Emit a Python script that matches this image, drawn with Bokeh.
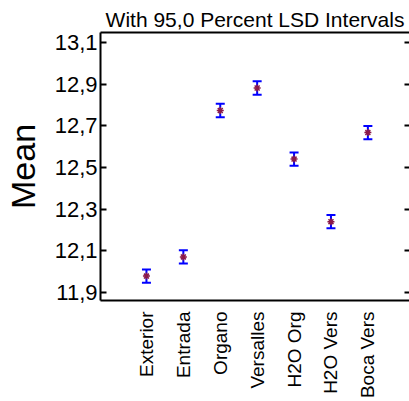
from bokeh.plotting import figure
from bokeh.models import (ColumnDataSource, Range1d, FixedTicker, LinearAxis,
                          Whisker, CustomJSTickFormatter, TeeHead)
from bokeh.embed import file_html
from bokeh.resources import INLINE

categories = ["Exterior", "Entrada", "Organo", "Versalles", "H2O Org", "H2O Vers", "Boca Vers"]
means = [11.979, 12.071, 12.773, 12.881, 12.540, 12.240, 12.667]
half_width = [0.032, 0.032, 0.032, 0.032, 0.032, 0.032, 0.032]
y_ticks = [11.9, 12.1, 12.3, 12.5, 12.7, 12.9, 13.1]
title_text = "With 95,0 Percent LSD Intervals"
y_label = "Mean"

xs = list(range(len(categories)))
src = ColumnDataSource(dict(
    x=xs, y=means,
    lower=[m - h for m, h in zip(means, half_width)],
    upper=[m + h for m, h in zip(means, half_width)],
))

FONT = "Liberation Sans"

p = figure(width=409, height=401, output_backend="svg", toolbar_location=None,
           x_range=Range1d(-1.245, 7.128), y_range=Range1d(11.862, 13.147),
           x_axis_location=None, y_axis_location=None,
           min_border_left=95, min_border_right=0, min_border_top=32, min_border_bottom=98)
p.grid.visible = False
p.outline_line_color = None
p.background_fill_color = "white"
p.border_fill_color = "white"

# title
p.title.text = title_text
p.title.align = "center"
p.title.text_font = FONT
p.title.text_font_size = "21px"
p.title.text_font_style = "normal"
p.title.text_color = "black"
p.title.standoff = 3

# left axis
yl = LinearAxis(ticker=FixedTicker(ticks=y_ticks),
                formatter=CustomJSTickFormatter(code="return tick.toFixed(1).replace('.', ',');"))
yl.axis_label = y_label
yl.axis_label_text_font = FONT
yl.axis_label_text_font_size = "34px"
yl.axis_label_text_font_style = "normal"
yl.axis_label_text_color = "black"
yl.axis_label_standoff = 10
yl.major_label_text_font = FONT
yl.major_label_text_font_size = "22px"
yl.major_label_text_color = "black"
yl.major_label_standoff = 3
yl.major_tick_in = 6
yl.major_tick_out = 0
yl.minor_tick_line_color = None
yl.axis_line_width = 2
yl.axis_line_color = "black"
yl.major_tick_line_width = 2
yl.major_tick_line_color = "black"
p.add_layout(yl, "left")

# right axis (ticks only)
yr = LinearAxis(ticker=FixedTicker(ticks=y_ticks),
                formatter=CustomJSTickFormatter(code="return '';"))
yr.major_label_standoff = 0
yr.axis_line_color = None
yr.major_tick_in = 5
yr.major_tick_out = 0
yr.major_tick_line_width = 2
yr.major_tick_line_color = "black"
yr.minor_tick_line_color = None
p.add_layout(yr, "right")

# bottom axis
xb = LinearAxis(ticker=FixedTicker(ticks=xs),
                major_label_overrides={i: c for i, c in enumerate(categories)})
xb.major_label_orientation = 1.5708
xb.major_label_text_font = FONT
xb.major_label_text_font_size = "19px"
xb.major_label_text_color = "black"
xb.major_label_standoff = 5
xb.major_tick_line_color = None
xb.minor_tick_line_color = None
xb.axis_line_width = 2
xb.axis_line_color = "black"
p.add_layout(xb, "below")

# top line
xt = LinearAxis(ticker=FixedTicker(ticks=[]))
xt.major_tick_line_color = None
xt.minor_tick_line_color = None
xt.axis_line_width = 2
xt.axis_line_color = "black"
p.add_layout(xt, "above")

w = Whisker(base="x", lower="lower", upper="upper", source=src,
            line_color="#0000FF", line_width=2,
            upper_head=TeeHead(size=9, line_color="#0000FF", line_width=2),
            lower_head=TeeHead(size=9, line_color="#0000FF", line_width=2))
p.add_layout(w)

p.scatter("x", "y", source=src, marker="asterisk", size=7,
          line_color="#8B1A4A", line_width=1.5)

open("out.html", "w").write(file_html(p, INLINE))
